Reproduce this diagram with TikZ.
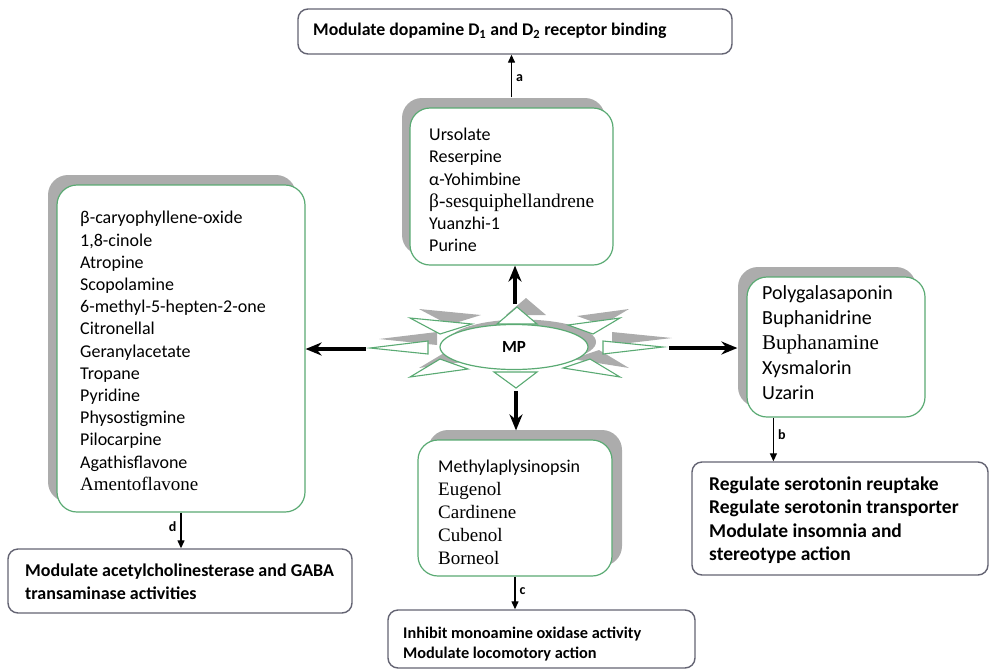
\documentclass[tikz,border=0pt]{standalone}
\usepackage{fontspec}
\setmainfont{Carlito}
\newfontfamily\serifit{Liberation Serif}
\usetikzlibrary{arrows.meta,shadows,calc,shapes.geometric}
\definecolor{boxgreen}{RGB}{90,170,115}
\definecolor{shgray}{RGB}{172,172,172}
\definecolor{resline}{RGB}{100,100,115}
\begin{document}
\begin{tikzpicture}[x=1pt,y=-1pt,
  compbox/.style={draw=boxgreen, line width=1.2pt, fill=white, rounded corners=20pt, inner sep=0pt},
  resbox/.style={draw=resline, line width=1.4pt, fill=white, rounded corners=10pt, inner sep=0pt},
  listtext/.style={anchor=west, align=left, inner sep=0pt, font=\fontsize{18}{22.3}\selectfont},
  restext/.style={anchor=west, align=left, inner sep=0pt, font=\fontsize{17.8}{20}\selectfont\bfseries},
  bigarrow/.style={line width=4pt, -{Stealth[length=16pt,width=13pt]}},
  thinarrow/.style={line width=1.3pt, -{Triangle[length=8pt,width=7pt]}},
  lbl/.style={font=\fontsize{14}{14}\selectfont\bfseries, inner sep=0pt},
  spike/.style={draw=boxgreen, line width=1.1pt, fill=white, line join=miter},
  spikeshadow/.style={fill=shgray, draw=none},
]
\useasboundingbox (0,0) rectangle (993,670);

% ---- result boxes
\node[resbox, minimum width=434, minimum height=45] (ra) at (515,31.5) {};
\node[resbox, minimum width=296, minimum height=113] (rb) at (840,518.5) {};
\node[resbox, minimum width=307, minimum height=58] (rc) at (541.5,639) {};
\node[resbox, minimum width=344, minimum height=64] (rd) at (180,581) {};

\node[restext] (ta) at (313,31) {Modulate dopamine D\textsubscript{1} and D\textsubscript{2} receptor binding};
\node[restext, font=\fontsize{19.5}{23.5}\selectfont\bfseries] (tb) at (709,520) {Regulate serotonin reuptake\\Regulate serotonin transporter\\Modulate insomnia and\\stereotype action};
\node[restext, font=\fontsize{16.3}{20}\selectfont\bfseries] (tc) at (403,644) {Inhibit monoamine oxidase activity\\Modulate locomotory action};
\node[restext, font=\fontsize{18}{23}\selectfont\bfseries] (td) at (25,582) {Modulate acetylcholinesterase and GABA\\transaminase activities};

% ---- compound boxes
\node[compbox, minimum width=203, minimum height=157,
  general shadow={fill=shgray, shadow xshift=-8pt, shadow yshift=10pt}] (ctop) at (511.5,186.5) {};
\node[compbox, minimum width=248, minimum height=327,
  general shadow={fill=shgray, shadow xshift=-9pt, shadow yshift=10pt}] (cleft) at (181,348.5) {};
\node[compbox, minimum width=178, minimum height=140,
  general shadow={fill=shgray, shadow xshift=-9pt, shadow yshift=10pt}] (cright) at (836,347) {};
\node[compbox, minimum width=194, minimum height=136,
  general shadow={fill=shgray, shadow xshift=10pt, shadow yshift=10pt}] (cbot) at (515,508) {};

\node[listtext] (ttop) at (429,190) {Ursolate\\Reserpine\\α-Yohimbine\\{\serifit\fontsize{19.4}{22.3}\selectfont β-sesquiphellandrene}\\Yuanzhi-1\\Purine};
\node[listtext, font=\fontsize{18}{22.2}\selectfont] (tleft) at (80,351) {β-caryophyllene-oxide\\1,8-cinole\\Atropine\\Scopolamine\\6-methyl-5-hepten-2-one\\Citronellal\\Geranylacetate\\Tropane\\Pyridine\\Physostigmine\\Pilocarpine\\Agathisflavone\\{\serifit\fontsize{19}{22.2}\selectfont Amentoflavone}};
\node[listtext, font=\fontsize{20}{25}\selectfont] (tright) at (762,343) {Polygalasaponin\\Buphanidrine\\{\serifit\fontsize{21}{25}\selectfont Buphanamine}\\Xysmalorin\\Uzarin};
\node[listtext, font=\fontsize{18}{23}\selectfont] (tbot) at (438,512) {Methylaplysinopsin\\{\serifit\fontsize{19}{23}\selectfont Eugenol}\\{\serifit\fontsize{19}{23}\selectfont Cardinene}\\{\serifit\fontsize{19}{23}\selectfont Cubenol}\\{\serifit\fontsize{19}{23}\selectfont Borneol}};

% ---- central star: shadows
\begin{scope}[shift={(9,-9)}]
  \fill[spikeshadow] (517,307) -- (497,324) -- (537,324) -- cycle;
  \fill[spikeshadow] (370,348) -- (428,341) -- (428,354) -- cycle;
  \fill[spikeshadow] (663,347) -- (603,341) -- (603,354) -- cycle;
  \fill[spikeshadow] (410,318) -- (472,324) -- (440,334) -- cycle;
  \fill[spikeshadow] (410,377) -- (468,369) -- (440,359) -- cycle;
  \fill[spikeshadow] (620,318) -- (568,325) -- (593,334) -- cycle;
  \fill[spikeshadow] (620,377) -- (563,368) -- (590,359) -- cycle;
\end{scope}
\node[ellipse, fill=shgray, minimum width=148, minimum height=45, inner sep=0pt] (mpsh) at (522,342) {};
% spikes
\draw[spike] (517,307) -- (497,324) -- (537,324) -- cycle;
\draw[spike] (516,388) -- (494,372) -- (537,372) -- cycle;
\draw[spike] (370,348) -- (428,341) -- (428,354) -- cycle;
\draw[spike] (663,347) -- (603,341) -- (603,354) -- cycle;
\draw[spike] (410,318) -- (472,324) -- (440,334) -- cycle;
\draw[spike] (410,377) -- (468,369) -- (440,359) -- cycle;
\draw[spike] (620,318) -- (568,325) -- (593,334) -- cycle;
\draw[spike] (620,377) -- (563,368) -- (590,359) -- cycle;
\node[ellipse, draw=boxgreen, line width=1.2pt, fill=white, minimum width=148, minimum height=45, inner sep=0pt,
  font=\fontsize{17}{17}\selectfont\bfseries] (mp) at (514,347) {MP};

\coordinate (sT) at (515,304);
\coordinate (sB) at (516,391);
\coordinate (sL) at (366,349);
\coordinate (sR) at (669,348);
\coordinate (bS) at ($(cright.south west)+(27,0)$);

% ---- arrows
\draw[bigarrow] (sT) -- (sT |- ctop.south);
\draw[bigarrow] (sB) -- ([yshift=9pt]sB |- cbot.north);
\draw[bigarrow] (sL) -- (sL -| cleft.east);
\draw[bigarrow] (sR) -- ([xshift=-9pt]sR -| cright.west);

\draw[thinarrow] ([yshift=10pt]ctop.north) -- (ctop.north |- ra.south) node[lbl, pos=0.45, right=4pt] {a};
\draw[thinarrow] (bS) -- (bS |- rb.north) node[lbl, pos=0.4, right=4pt] {b};
\draw[thinarrow] (cbot.south) -- (cbot.south |- rc.north) node[lbl, pos=0.45, right=4pt] {c};
\draw[thinarrow] (cleft.south) -- (cleft.south |- rd.north) node[lbl, pos=0.4, left=4pt] {d};
\end{tikzpicture}
\end{document}
